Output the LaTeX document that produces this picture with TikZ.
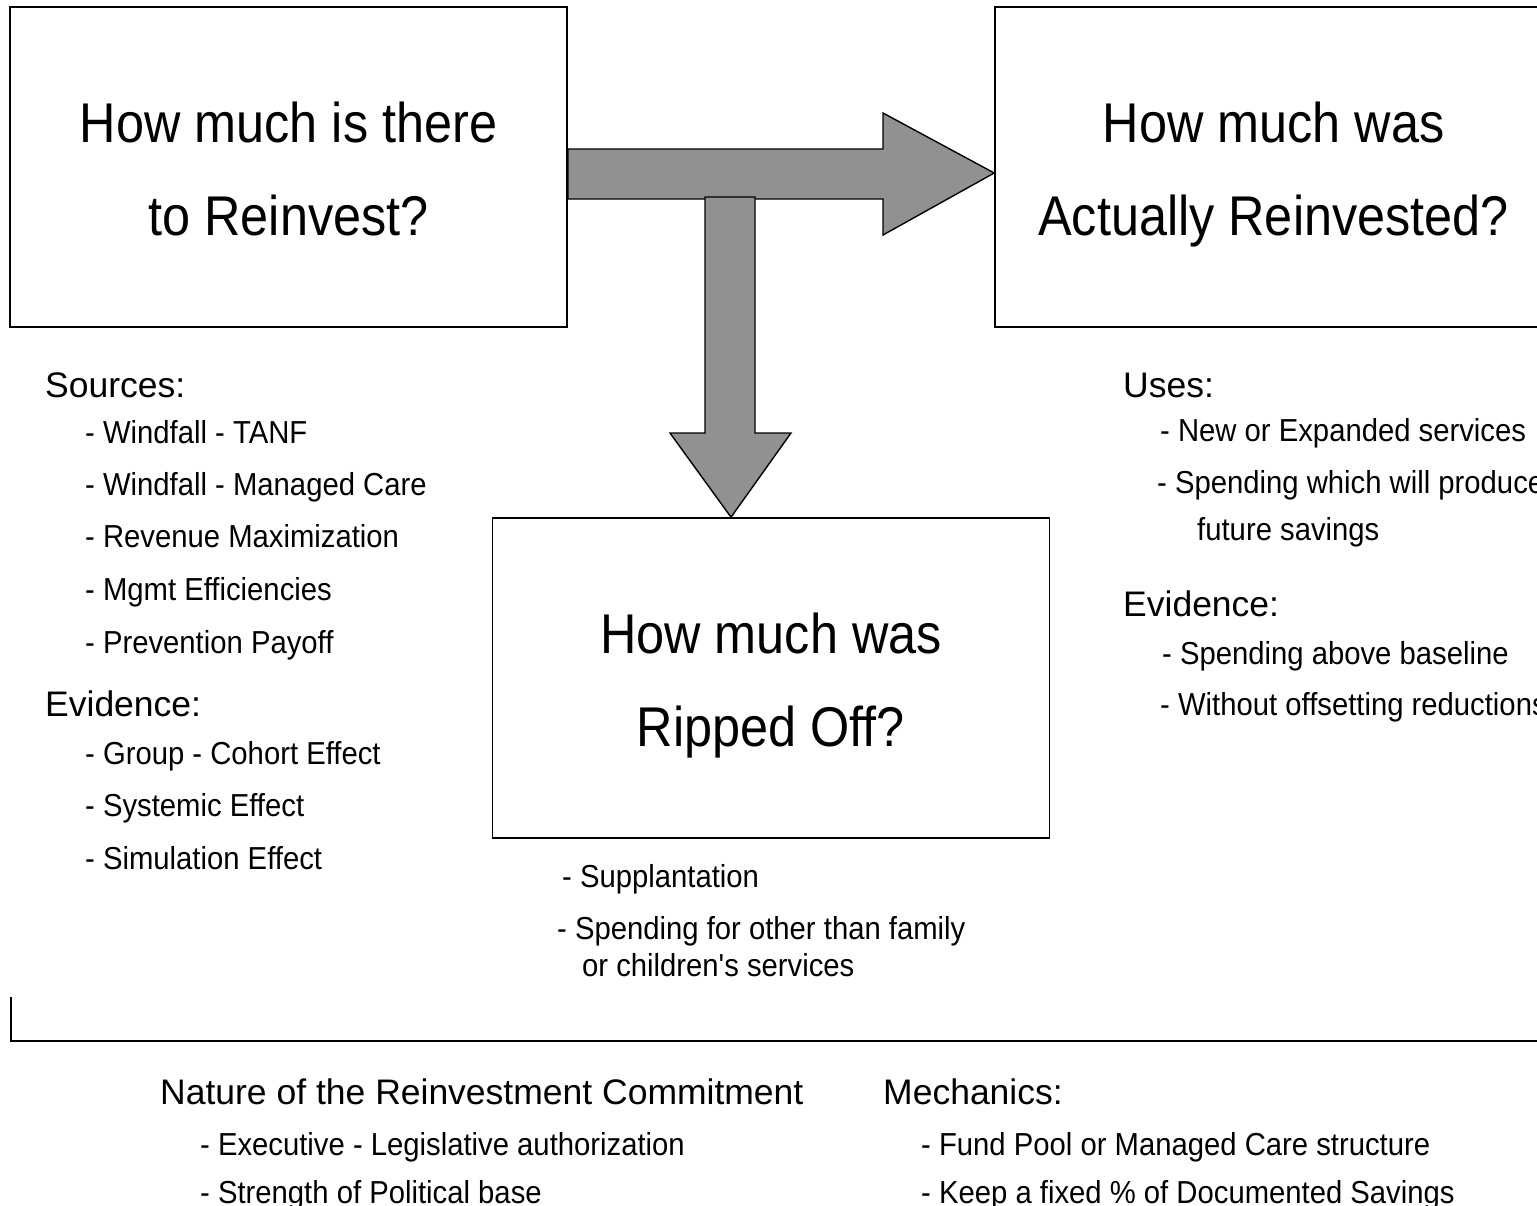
\documentclass[tikz,border=0pt]{standalone}
\usepackage{fontspec}
\setmainfont{Liberation Sans}
\newfontfamily\itemfont[FakeStretch=0.92]{Liberation Sans}
\newfontfamily\titlefont[FakeStretch=0.9]{Liberation Sans}
\definecolor{arrowgray}{HTML}{919191}
\begin{document}
\begin{tikzpicture}[x=1pt,y=-1pt,
  qbox/.style={draw, line width=1.6pt, minimum width=557pt, minimum height=320pt, inner sep=0pt},
  qtitle/.style={anchor=base, inner sep=0pt, font=\titlefont\fontsize{56}{62}\selectfont},
  qhead/.style={anchor=base west, inner sep=0pt, font=\fontsize{35.5}{40}\selectfont},
  qitem/.style={anchor=base west, inner sep=0pt, font=\itemfont\fontsize{31.8}{37}\selectfont},
  blockarrow/.style={fill=arrowgray, draw=black, line width=1.4pt, line join=miter}]
\useasboundingbox (0,0) rectangle (1537,1205);
\clip (0,0) rectangle (1537,1205);

% boxes
\node[qbox] (b1) at (288.5,167) {};
\node[qbox] (b2) at (1273.5,167) {};
\node[qbox] (b3) at (771,678) {};

% titles
\node[qtitle] (t1a) at (288.5,142) {How much is there};
\node[qtitle] (t1b) at (288.5,235) {to Reinvest?};
\node[qtitle] (t2a) at (1273.5,142) {How much was};
\node[qtitle] (t2b) at (1273.5,235) {Actually Reinvested?};
\node[qtitle] (t3a) at (771,653) {How much was};
\node[qtitle] (t3b) at (771,746) {Ripped Off?};

% block arrows
\coordinate (rt) at (b2.west |- 0,173);
\draw[blockarrow] (568,149) -- (883,149) -- (883,113) -- (rt) -- (883,235) -- (883,199) -- (568,199) -- cycle;
\coordinate (dt) at (b3.north -| 731,0);
\draw[blockarrow] (705,197) -- (755,197) -- (755,433) -- (791,433) -- (dt) -- (670,433) -- (705,433) -- cycle;

% left list
\node[qhead] (l0) at (45,397) {Sources:};
\node[qitem] (l1) at (85,443) {- Windfall - TANF};
\node[qitem] (l2) at (85,495) {- Windfall - Managed Care};
\node[qitem] (l3) at (85,547) {- Revenue Maximization};
\node[qitem] (l4) at (85,600) {- Mgmt Efficiencies};
\node[qitem] (l5) at (85,653) {- Prevention Payoff};
\node[qhead] (l6) at (45,716) {Evidence:};
\node[qitem] (l7) at (85,764) {- Group - Cohort Effect};
\node[qitem] (l8) at (85,816) {- Systemic Effect};
\node[qitem] (l9) at (85,869) {- Simulation Effect};

% right list
\node[qhead] (r0) at (1123,397) {Uses:};
\node[qitem] (r1) at (1160,441) {- New or Expanded services};
\node[qitem] (r2) at (1157,493) {- Spending which will produce};
\node[qitem] (r3) at (1197,540) {future savings};
\node[qhead] (r4) at (1123,616) {Evidence:};
\node[qitem] (r5) at (1162,664) {- Spending above baseline};
\node[qitem] (r6) at (1160,715) {- Without offsetting reductions};

% middle list
\node[qitem] (m1) at (562,887) {- Supplantation};
\node[qitem] (m2) at (557,939) {- Spending for other than family};
\node[qitem] (m3) at (582,976) {or children's services};

% bottom rule
\coordinate (ls) at (11,997);
\coordinate (lc) at (11,1041);
\coordinate (le) at (1540,1041);
\draw[line width=1.6pt] (ls) -- (lc) -- (le);

% bottom lists
\node[qhead] (n0) at (160,1104) {Nature of the Reinvestment Commitment};
\node[qitem] (n1) at (200,1155) {- Executive - Legislative authorization};
\node[qitem] (n2) at (200,1203) {- Strength of Political base};
\node[qhead] (k0) at (883,1104) {Mechanics:};
\node[qitem] (k1) at (921,1155) {- Fund Pool or Managed Care structure};
\node[qitem] (k2) at (921,1203) {- Keep a fixed \% of Documented Savings};
\end{tikzpicture}
\end{document}
